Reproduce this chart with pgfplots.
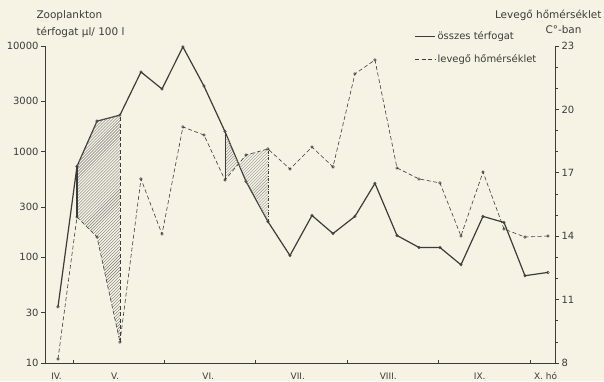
\documentclass[border=0pt]{standalone}
\usepackage{pgfplots}
\pgfplotsset{compat=1.18}
\usetikzlibrary{patterns}
\usepackage{pgfplotstable}
\usepackage{fontspec}
\setmainfont{DejaVu Sans}
\definecolor{bg}{HTML}{F6F2E4}
\definecolor{ink}{HTML}{3C3C3C}
\pgfplotstableread{
x v T
4.836 34 8.19
5.044 726 14.91
5.263 1945 13.96
5.514 2218 8.99
5.744 5680 16.71
5.974 3920 14.10
6.203 9800 19.17
6.433 4180 18.79
6.663 1550 16.66
6.893 523 17.84
7.133 218 18.13
7.374 104 17.18
7.615 249 18.22
7.845 168 17.28
8.085 244 21.68
8.304 501 22.34
8.545 161 17.23
8.786 124 16.71
9.015 124 16.52
9.245 85 14.01
9.486 244 17.04
9.716 214 14.34
9.945 67 13.96
10.197 72 14.01
}\data
\begin{document}
\begin{tikzpicture}[x=1bp,y=1bp]
\fill[bg] (0,0) rectangle (604,381);
\path[use as bounding box] (0,0) rectangle (604,381);
\begin{axis}[
  at={(45bp,18bp)}, anchor=south west, scale only axis,
  width=510bp, height=317bp,
  xmin=4.694, xmax=10.274, ymode=log, ymin=10, ymax=10000,
  axis x line=bottom, axis y line=left,
  axis line style={-, ink, line width=0.7bp},
  every tick/.style={ink, line width=0.7bp},
  tick align=outside, major tick length=4bp,
  xtick={5,6,7,8,9,10}, xticklabels={},
  xtick style={yshift=3.5bp},
  extra x ticks={4.82,5.46,6.48,7.46,8.45,9.45,10.17},
  extra x tick labels={IV.,V.,VI.,VII.,VIII.,IX.,{X. hó}},
  extra x tick style={major tick length=0pt, tick label style={font=\fontsize{9}{10}\selectfont, text=ink, yshift=-6bp}},
  ytick={10,30,100,300,1000,3000,10000},
  yticklabels={10,30,100,300,1000,3000,10000},
  yticklabel style={font=\fontsize{10}{11}\selectfont, text=ink, xshift=1bp},
  /pgf/number format/assume math mode=true,
  clip=false,
  legend style={at={(0.722,1.055)}, anchor=north west, draw=none, fill=none,
    font=\fontsize{10}{12}\selectfont, text=ink, row sep=9bp, inner sep=1bp},
  legend cell align=left,
  legend image code/.code={\draw[#1] (0bp,0bp) -- (20bp,0bp);},
]
\addplot[ink, line width=1.2bp, mark=o, mark size=1.3bp, mark options={solid, fill=bg, line width=0.5bp}]
  table[x=x, y=v]{\data};
\addlegendentry{összes térfogat}
\addlegendimage{ink, line width=0.6bp, dash pattern=on 4bp off 2.5bp}
\addlegendentry{levegő hőmérséklet}
\end{axis}
\begin{axis}[
  at={(45bp,18bp)}, anchor=south west, scale only axis,
  width=510bp, height=317bp,
  xmin=4.694, xmax=10.274, ymin=8, ymax=23,
  axis x line=none, axis y line=right,
  axis line style={-, ink, line width=0.7bp},
  every tick/.style={ink, line width=0.7bp},
  tick align=outside, major tick length=4bp, minor tick length=2.5bp,
  ytick={8,11,14,17,20,23},
  minor ytick={9,10,12,13,15,16,18,19,21,22},
  yticklabel style={font=\fontsize{10}{11}\selectfont, text=ink, xshift=-1bp},
  /pgf/number format/assume math mode=true,
]
% hatched areas (volume expressed on the temperature scale)
\addplot[pattern=north east lines, pattern color=ink!70, draw=none, forget plot]
  coordinates {(5.044,17.30) (5.263,19.45) (5.514,19.73) (5.514,8.99) (5.263,13.96) (5.044,14.91)};
\addplot[pattern=north east lines, pattern color=ink!55, draw=none, forget plot]
  coordinates {(6.663,18.95) (6.893,16.59) (7.133,14.69) (7.133,18.13) (6.893,17.84) (6.663,16.66)};
\addplot[ink, line width=0.6bp, dash pattern=on 4bp off 2.5bp,
  mark=o, mark size=1.3bp, mark options={solid, fill=bg, line width=0.5bp}]
  table[x=x, y=T]{\data};
\addplot[ink, line width=1.2bp] coordinates {(5.044,14.91) (5.044,17.30)};
\addplot[ink, line width=0.6bp, dash pattern=on 4bp off 2.5bp] coordinates {(5.514,8.99) (5.514,19.73)};
\addplot[ink, line width=0.6bp] coordinates {(6.663,16.66) (6.663,18.95)};
\addplot[ink, line width=0.6bp, dash pattern=on 3bp off 1.5bp on 0.8bp off 1.5bp] coordinates {(7.133,14.69) (7.133,18.13)};
\end{axis}
\node[anchor=west, font=\fontsize{10.5}{12}\selectfont, text=ink] at (33,365) {Zooplankton};
\node[anchor=west, font=\fontsize{10.5}{12}\selectfont, text=ink] at (33,349) {térfogat µl/ 100 l};
\node[anchor=east, font=\fontsize{10.5}{12}\selectfont, text=ink] at (605,366) {Levegő hőmérséklet};
\node[anchor=west, font=\fontsize{10.5}{12}\selectfont, text=ink] at (542,351) {C°-ban};
\end{tikzpicture}
\end{document}
